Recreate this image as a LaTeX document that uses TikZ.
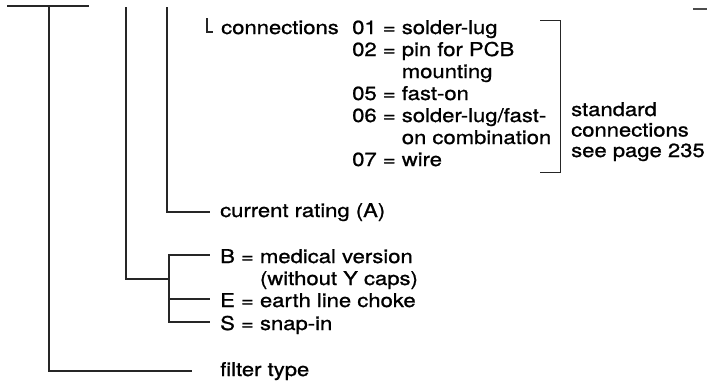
\documentclass[tikz,border=0pt]{standalone}
\usepackage{fontspec}
\setmainfont{TeX Gyre Heros}[FakeStretch=1.16, FakeBold=1]
\usetikzlibrary{calc}
\newcommand\lbl{\fontsize{19}{22}\selectfont}
\tikzset{
    lead/.style={line width=1.2pt, draw=black!85, shorten >=10pt},
    note/.style={anchor=base west, inner sep=0pt, font=\lbl},
    bracket/.style={line width=1.2pt, draw=black!85},
}

\begin{document}
\begin{tikzpicture}[x=1pt, y=-1pt]
  \useasboundingbox (0,0) rectangle (707,383);

  % ends of the order code above
  \coordinate (type) at (49,6);
  \coordinate (version) at (126,7);
  \coordinate (rating) at (167,7);
  \coordinate (conn) at (207,18);
  \coordinate (fork) at (169,279);

  \draw[lead, shorten >=0pt] (7,6) -- (89,6);
  \draw[line width=1.5pt, black!70] (693,9) -- (707,9);

  \node[note] (connections) at (221,34) {connections};
  \node[note] (codes) at (352,34) {\begin{tabular}[t]{@{}l@{\ }l@{}}
      01 = & solder-lug\\
      02 = & pin for PCB\\
           & mounting\\
      05 = & fast-on\\
      06 = & solder-lug/fast-\\
           & on combination\\
      07 = & wire
    \end{tabular}};
  \node[note, font=\fontsize{19}{20.5}\selectfont] (standard) at (571,116) {\begin{tabular}[t]{@{}l@{}}
      standard\\
      connections\\
      see page 235
    \end{tabular}};
  \node[note] (current) at (220,217) {current rating (A)};
  \node[note] (medical) at (220,263) {\begin{tabular}[t]{@{}l@{\ }l@{}}
      B = & medical version\\
          & (without Y caps)
    \end{tabular}};
  \node[note] (earth) at (220,307) {E = earth line choke};
  \node[note] (snapin) at (220,330) {S = snap-in};
  \node[note] (filtertype) at (220,376) {filter type};

  \draw[lead, shorten >=8pt] (conn) |- ([yshift=2pt]connections.base west);
  \draw[bracket] ($(codes.north east)+(-11,2)$) -- ++(20,0) |- ($(codes.south east)+(-11,0)$);
  \draw[lead] (rating) |- ([yshift=5pt]current.base west);
  \draw[lead, shorten >=0pt] (version) |- (fork);
  \draw[lead] (fork) |- ([yshift=8pt]medical.base west);
  \draw[lead] (fork) |- ([yshift=8pt]earth.base west);
  \draw[lead] (fork) |- ([yshift=8pt]snapin.base west);
  \draw[lead, shorten >=28pt] (type) |- ([yshift=5pt]filtertype.base west);
\end{tikzpicture}
\end{document}
